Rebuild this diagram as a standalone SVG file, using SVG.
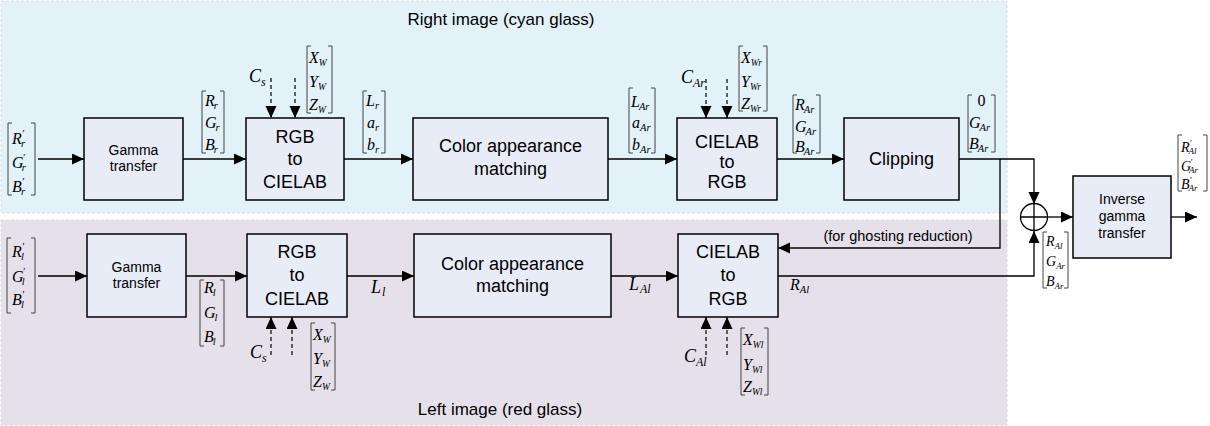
<svg xmlns="http://www.w3.org/2000/svg" width="1210" height="426" viewBox="0 0 1210 426">
<style>
.bg{stroke:#d8dde3;stroke-width:1;stroke-dasharray:3,2}
.box{fill:#e8ecf7;stroke:#000;stroke-width:1.5}
.t{font-family:"Liberation Sans",Arial,sans-serif;fill:#000;text-anchor:middle}
.t14{font-size:14px}.t18{font-size:18px}
.ln{fill:none;stroke:#000;stroke-width:1.3}
.dl{fill:none;stroke:#000;stroke-width:1.2;stroke-dasharray:4,3}
.br{fill:none;stroke:#444;stroke-width:1}
.m{font-family:"Liberation Serif","Times New Roman","DejaVu Serif",serif;font-style:italic;font-size:16px;fill:#000}
.ms{font-size:14px}
.s{font-size:10.5px}
.sw{font-size:9.5px}
.s9{font-size:9px}
.s12{font-size:12px}
.big{font-size:18px}
.n{font-style:normal;text-anchor:middle}
</style>
<defs>
<marker id="ah" markerUnits="userSpaceOnUse" markerWidth="13" markerHeight="12" refX="12" refY="5.5" orient="auto">
<path d="M0,0 L12,5.5 L0,11 z" fill="#000"/>
</marker>
</defs>
<rect width="1210" height="426" fill="#fff"/>
<g id="regions">
<rect class="bg" x="1" y="1" width="1006" height="212" fill="#e3f1f8"/>
<rect class="bg" x="1" y="220" width="1006" height="205" fill="#e6e0ea"/>
<text class="t" x="501" y="25" font-size="17">Right image (cyan glass)</text>
<text class="t" x="500" y="415" font-size="17">Left image (red glass)</text>
</g>
<g id="connectors">
<line class="ln" x1="38" y1="159" x2="84" y2="159" marker-end="url(#ah)"/>
<line class="ln" x1="183" y1="159" x2="246" y2="159" marker-end="url(#ah)"/>
<line class="ln" x1="344" y1="159" x2="413" y2="159" marker-end="url(#ah)"/>
<line class="ln" x1="608" y1="159" x2="677" y2="159" marker-end="url(#ah)"/>
<line class="ln" x1="777" y1="159" x2="844" y2="159" marker-end="url(#ah)"/>
<polyline class="ln" points="959,159 1034,159 1034,204" marker-end="url(#ah)"/>
<polyline class="ln" points="1000,159 1000,248 778,248" marker-end="url(#ah)"/>
<line class="ln" x1="38" y1="276" x2="87" y2="276" marker-end="url(#ah)"/>
<line class="ln" x1="186" y1="276" x2="247" y2="276" marker-end="url(#ah)"/>
<line class="ln" x1="347" y1="276" x2="414" y2="276" marker-end="url(#ah)"/>
<line class="ln" x1="611" y1="276" x2="678" y2="276" marker-end="url(#ah)"/>
<polyline class="ln" points="778,276 1034,276 1034,231" marker-end="url(#ah)"/>
<line class="ln" x1="1048" y1="217" x2="1073" y2="217" marker-end="url(#ah)"/>
<line class="ln" x1="1171" y1="217" x2="1197" y2="217" marker-end="url(#ah)"/>
<line class="dl" x1="271" y1="78" x2="271" y2="118" marker-end="url(#ah)"/>
<line class="dl" x1="295" y1="78" x2="295" y2="118" marker-end="url(#ah)"/>
<line class="dl" x1="706" y1="79" x2="706" y2="118" marker-end="url(#ah)"/>
<line class="dl" x1="727" y1="79" x2="727" y2="118" marker-end="url(#ah)"/>
<line class="dl" x1="271" y1="355" x2="271" y2="317" marker-end="url(#ah)"/>
<line class="dl" x1="292" y1="355" x2="292" y2="317" marker-end="url(#ah)"/>
<line class="dl" x1="706" y1="355" x2="706" y2="317" marker-end="url(#ah)"/>
<line class="dl" x1="727" y1="355" x2="727" y2="317" marker-end="url(#ah)"/>
<text class="t" x="898" y="241" font-size="14.5">(for ghosting reduction)</text>
</g>
<g id="gamma-r"><rect class="box" x="84" y="118" width="99" height="82"/><text class="t t14" x="133.5" y="155">Gamma</text><text class="t t14" x="133.5" y="171">transfer</text></g>
<g id="rgb2lab-r"><rect class="box" x="246" y="118" width="98" height="82"/><text class="t t18" x="295" y="143">RGB</text><text class="t t18" x="295" y="165">to</text><text class="t t18" x="295" y="188">CIELAB</text></g>
<g id="cam-r"><rect class="box" x="413" y="118" width="195" height="82"/><text class="t t18" x="510.5" y="152">Color appearance</text><text class="t t18" x="510.5" y="175">matching</text></g>
<g id="lab2rgb-r"><rect class="box" x="677" y="118" width="100" height="82"/><text class="t t18" x="727" y="148">CIELAB</text><text class="t t18" x="727" y="168">to</text><text class="t t18" x="727" y="188">RGB</text></g>
<g id="clipping"><rect class="box" x="844" y="118" width="115" height="82"/><text class="t t18" x="901.5" y="165">Clipping</text></g>
<g id="sum"><circle cx="1034" cy="217" r="13.5" fill="none" stroke="#000" stroke-width="1.3"/><path class="ln" d="M1020.5,217 H1047.5 M1034,203.5 V230.5"/></g>
<g id="invgamma"><rect class="box" x="1073" y="176" width="98" height="82"/><text class="t t14" x="1122" y="204">Inverse</text><text class="t t14" x="1122" y="221">gamma</text><text class="t t14" x="1122" y="238">transfer</text></g>
<g id="gamma-l"><rect class="box" x="87" y="234" width="99" height="83"/><text class="t t14" x="136.5" y="272">Gamma</text><text class="t t14" x="136.5" y="288">transfer</text></g>
<g id="rgb2lab-l"><rect class="box" x="247" y="234" width="100" height="83"/><text class="t t18" x="297" y="258">RGB</text><text class="t t18" x="297" y="281">to</text><text class="t t18" x="297" y="305">CIELAB</text></g>
<g id="cam-l"><rect class="box" x="414" y="234" width="197" height="83"/><text class="t t18" x="512.5" y="270">Color appearance</text><text class="t t18" x="512.5" y="292">matching</text></g>
<g id="lab2rgb-l"><rect class="box" x="678" y="234" width="100" height="83"/><text class="t t18" x="728" y="258">CIELAB</text><text class="t t18" x="728" y="281">to</text><text class="t t18" x="728" y="305">RGB</text></g>
<g id="labels">
<path class="br" d="M12,123 H8 V195 H12 M31,123 H35 V195 H31"/>
<text class="m" x="12" y="144">R<tspan class="s" dx="0" dy="-7">′</tspan><tspan class="s" dx="-3" dy="10">r</tspan></text>
<text class="m" x="12" y="168">G<tspan class="s" dx="-1" dy="-7">′</tspan><tspan class="s" dx="-3" dy="10">r</tspan></text>
<text class="m" x="12" y="192">B<tspan class="s" dx="0" dy="-7">′</tspan><tspan class="s" dx="-3" dy="10">r</tspan></text>
<path class="br" d="M206,91 H202 V153 H206 M220,91 H224 V153 H220"/>
<text class="m" x="205" y="106">R<tspan class="s" dx="-1" dy="3">r</tspan></text>
<text class="m" x="205" y="128">G<tspan class="s" dx="-1" dy="3">r</tspan></text>
<text class="m" x="205" y="150">B<tspan class="s" dx="-1" dy="3">r</tspan></text>
<path class="br" d="M311,46 H307 V113 H311 M328,46 H332 V113 H328"/>
<text class="m" x="309" y="63">X<tspan class="sw" dy="3">W</tspan></text>
<text class="m" x="309" y="87">Y<tspan class="sw" dy="3">W</tspan></text>
<text class="m" x="309" y="110">Z<tspan class="sw" dy="3">W</tspan></text>
<text class="m big" x="249" y="82">C<tspan class="s12" dy="4">s</tspan></text>
<path class="br" d="M367,91 H363 V153 H367 M381,91 H385 V153 H381"/>
<text class="m" x="366" y="106">L<tspan class="s" dy="3">r</tspan></text>
<text class="m" x="367" y="128">a<tspan class="s" dy="3">r</tspan></text>
<text class="m" x="367" y="150">b<tspan class="s" dy="3">r</tspan></text>
<path class="br" d="M633,88 H629 V153 H633 M651,88 H655 V153 H651"/>
<text class="m" x="631" y="107">L<tspan class="s" dx="-1" dy="3">Ar</tspan></text>
<text class="m" x="632" y="128">a<tspan class="s" dy="3">Ar</tspan></text>
<text class="m" x="632" y="150">b<tspan class="s" dy="3">Ar</tspan></text>
<text class="m big" x="681" y="83">C<tspan class="s12" dy="4">Ar</tspan></text>
<path class="br" d="M743,46 H739 V111 H743 M763,46 H767 V111 H763"/>
<text class="m" x="741" y="63">X<tspan class="sw" dy="3">Wr</tspan></text>
<text class="m" x="741" y="87">Y<tspan class="sw" dy="3">Wr</tspan></text>
<text class="m" x="741" y="109">Z<tspan class="sw" dy="3">Wr</tspan></text>
<path class="br" d="M797,95 H793 V153 H797 M816,95 H820 V153 H816"/>
<text class="m" x="795" y="110">R<tspan class="s" dx="-1" dy="3">Ar</tspan></text>
<text class="m" x="795" y="132">G<tspan class="s" dx="-1" dy="3">Ar</tspan></text>
<text class="m" x="795" y="152">B<tspan class="s" dx="-1" dy="3">Ar</tspan></text>
<path class="br" d="M972,95 H968 V152 H972 M991,95 H995 V152 H991"/>
<text class="m n" x="981.5" y="106">0</text>
<text class="m" x="969" y="128">G<tspan class="s" dx="-1" dy="3">Ar</tspan></text>
<text class="m" x="969" y="149">B<tspan class="s" dx="-1" dy="3">Ar</tspan></text>
<path class="br" d="M1182,135 H1178 V191 H1182 M1203,135 H1207 V191 H1203"/>
<text class="m ms" x="1181" y="152">R<tspan class="s9" dx="0" dy="-6">′</tspan><tspan class="s9" dx="-3" dy="8">Al</tspan></text>
<text class="m ms" x="1181" y="171">G<tspan class="s9" dx="-1" dy="-6">′</tspan><tspan class="s9" dx="-3" dy="8">Ar</tspan></text>
<text class="m ms" x="1181" y="189">B<tspan class="s9" dx="0" dy="-6">′</tspan><tspan class="s9" dx="-3" dy="8">Ar</tspan></text>
<path class="br" d="M1047,232 H1043 V288 H1047 M1064,232 H1068 V288 H1064"/>
<text class="m ms" x="1046" y="246">R<tspan class="s9" dy="3">Al</tspan></text>
<text class="m ms" x="1046" y="266">G<tspan class="s9" dy="3">Ar</tspan></text>
<text class="m ms" x="1046" y="286">B<tspan class="s9" dy="3">Ar</tspan></text>
<path class="br" d="M11,238 H7 V313 H11 M31,238 H35 V313 H31"/>
<text class="m" x="12" y="257">R<tspan class="s" dx="0" dy="-7">′</tspan><tspan class="s" dx="-3" dy="10">l</tspan></text>
<text class="m" x="12" y="282">G<tspan class="s" dx="-1" dy="-7">′</tspan><tspan class="s" dx="-3" dy="10">l</tspan></text>
<text class="m" x="12" y="305">B<tspan class="s" dx="0" dy="-7">′</tspan><tspan class="s" dx="-3" dy="10">l</tspan></text>
<path class="br" d="M204,280 H200 V346 H204 M220,280 H224 V346 H220"/>
<text class="m" x="204" y="293">R<tspan class="s" dx="-1" dy="3">l</tspan></text>
<text class="m" x="204" y="318">G<tspan class="s" dx="-1" dy="3">l</tspan></text>
<text class="m" x="204" y="342">B<tspan class="s" dx="-1" dy="3">l</tspan></text>
<path class="br" d="M315,323 H311 V390 H315 M331,323 H335 V390 H331"/>
<text class="m" x="313" y="340">X<tspan class="sw" dy="3">W</tspan></text>
<text class="m" x="313" y="364">Y<tspan class="sw" dy="3">W</tspan></text>
<text class="m" x="313" y="387">Z<tspan class="sw" dy="3">W</tspan></text>
<text class="m big" x="250" y="358">C<tspan class="s12" dy="4">s</tspan></text>
<text class="m big" x="371" y="293">L<tspan class="s12" dx="1" dy="3">l</tspan></text>
<path class="br" d="M745,328 H741 V395 H745 M764,328 H768 V395 H764"/>
<text class="m" x="743" y="345">X<tspan class="sw" dy="3">Wl</tspan></text>
<text class="m" x="743" y="370">Y<tspan class="sw" dy="3">Wl</tspan></text>
<text class="m" x="743" y="392">Z<tspan class="sw" dy="3">Wl</tspan></text>
<text class="m big" x="684" y="362">C<tspan class="s12" dy="4">Al</tspan></text>
<text class="m big" x="629" y="290">L<tspan class="s12" dx="1" dy="3">Al</tspan></text>
<text class="m" x="790" y="290">R<tspan class="s" dy="3">Al</tspan></text>
</g>
</svg>
